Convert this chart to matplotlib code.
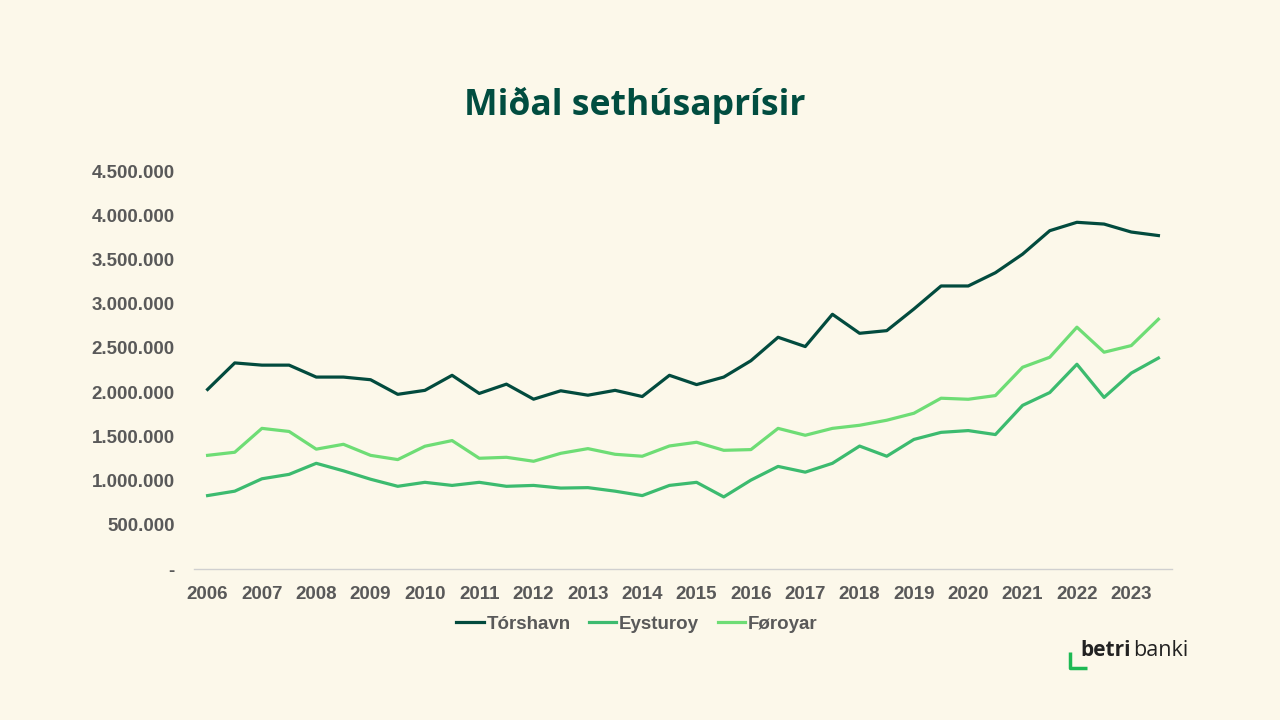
import matplotlib.pyplot as plt
import numpy as np
from matplotlib.ticker import FuncFormatter

# half-year observations 2006 H1 .. 2023 H2
years = list(range(2006, 2024))
torshavn = [2030000, 2330000, 2305000, 2305000, 2170000, 2170000, 2140000, 1975000, 2020000, 2190000,
            1985000, 2090000, 1920000, 2015000, 1965000, 2020000, 1950000, 2190000, 2085000, 2170000,
            2355000, 2620000, 2515000, 2880000, 2665000, 2695000, 2940000, 3200000, 3200000, 3350000,
            3560000, 3825000, 3920000, 3900000, 3810000, 3770000]
eysturoy = [830000, 880000, 1020000, 1070000, 1195000, 1110000, 1015000, 935000, 980000, 945000,
            980000, 935000, 945000, 915000, 920000, 880000, 830000, 945000, 980000, 815000,
            1005000, 1160000, 1095000, 1195000, 1390000, 1275000, 1465000, 1545000, 1565000, 1520000,
            1850000, 1995000, 2315000, 1940000, 2215000, 2385000]
foroyar = [1285000, 1320000, 1590000, 1555000, 1355000, 1410000, 1285000, 1237000, 1388000, 1452000,
           1252000, 1263000, 1218000, 1308000, 1361000, 1297000, 1275000, 1391000, 1433000, 1342000,
           1350000, 1590000, 1512000, 1590000, 1625000, 1682000, 1761000, 1931000, 1919000, 1961000,
           2281000, 2394000, 2734000, 2451000, 2526000, 2824000]

bg = '#FCF8EA'
c_tor = '#024B3E'
c_eys = '#3CBB6F'
c_for = '#6EDD75'

fig = plt.figure(figsize=(12.8, 7.2), dpi=100, facecolor=bg)
ax = fig.add_axes([194/1280, 1-569/720, (1172-194)/1280, (569-171)/720])
ax.set_facecolor(bg)

x = np.arange(len(torshavn))
ax.plot(x, torshavn, color=c_tor, lw=2.3, label='Tórshavn')
ax.plot(x, eysturoy, color=c_eys, lw=2.3, label='Eysturoy')
ax.plot(x, foroyar, color=c_for, lw=2.3, label='Føroyar')

ax.set_xlim(-0.5, len(x) - 0.5)
ax.set_ylim(0, 4500000)
ax.set_yticks(np.arange(0, 4500001, 500000))
ax.yaxis.set_major_formatter(FuncFormatter(lambda v, p: '-' if v == 0 else f'{int(v):,}'.replace(',', '.')))
ax.set_xticks(np.arange(0, len(x), 2))
ax.set_xticklabels([str(y) for y in years])

for s in ['top', 'right', 'left']:
    ax.spines[s].set_visible(False)
ax.spines['bottom'].set_color('#D0D0D0')
ax.spines['bottom'].set_linewidth(1)
ax.tick_params(length=0, colors='#595959', labelsize=13.5)
ax.tick_params(axis='y', pad=14)
ax.tick_params(axis='x', pad=12)
for lab in ax.get_xticklabels() + ax.get_yticklabels():
    lab.set_fontfamily('Liberation Sans')
    lab.set_fontweight('bold')

leg = ax.legend(loc='center', bbox_to_anchor=(637/1280, 1-624/720), bbox_transform=fig.transFigure,
                ncol=3, frameon=False, handlelength=1.45, columnspacing=1.0, handletextpad=0.15,
                prop={'family': 'Liberation Sans', 'weight': 'bold', 'size': 13.5})
for t in leg.get_texts():
    t.set_color('#595959')

fig.text(635/1280, 1-105/720, 'Miðal sethúsaprísir', ha='center', va='center',
         fontsize=25.6, fontweight='bold', color='#014D40', family='Open Sans')

# logo
fig.add_artist(plt.Line2D([1070/1280, 1070/1280, 1087/1280], [1-652/720, 1-668/720, 1-668/720],
                          transform=fig.transFigure, color='#1DB954', lw=2.5, solid_capstyle='butt'))
fig.text(1080/1280, 1-651/720, 'betri', ha='left', va='center', fontsize=15, fontweight='bold',
         color='#222222', family='Open Sans')
fig.text(1133/1280, 1-651/720, 'banki', ha='left', va='center', fontsize=15.5,
         color='#222222', family='Open Sans')

fig.savefig('out.png', dpi=100, facecolor=bg)
